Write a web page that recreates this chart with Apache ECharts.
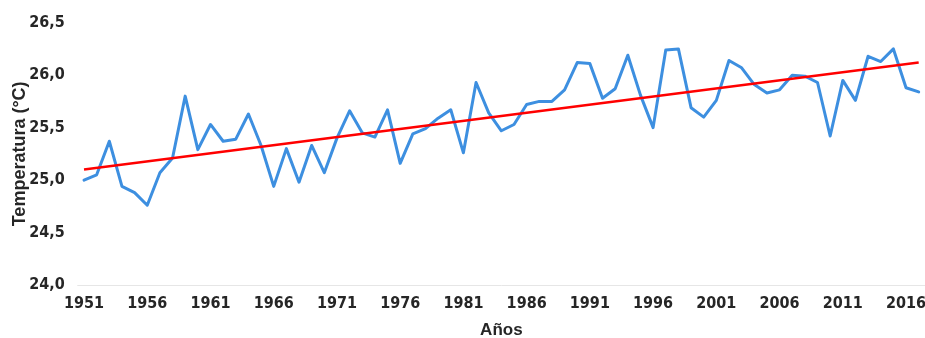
<!DOCTYPE html>
<html>
<head>
<meta charset="utf-8">
<script src="https://cdn.jsdelivr.net/npm/echarts@6/dist/echarts.min.js"></script>
<style>html,body{margin:0;padding:0;background:#fff}#c{width:925px;height:338px}</style>
</head>
<body>
<div id="c"></div>
<script>
var years = ['1951','1952','1953','1954','1955','1956','1957','1958','1959','1960',
 '1961','1962','1963','1964','1965','1966','1967','1968','1969','1970',
 '1971','1972','1973','1974','1975','1976','1977','1978','1979','1980',
 '1981','1982','1983','1984','1985','1986','1987','1988','1989','1990',
 '1991','1992','1993','1994','1995','1996','1997','1998','1999','2000',
 '2001','2002','2003','2004','2005','2006','2007','2008','2009','2010',
 '2011','2012','2013','2014','2015','2016','2017'];
var temps = [25.00,25.05,25.37,24.94,24.88,24.76,25.07,25.21,25.80,25.29,
 25.53,25.37,25.39,25.63,25.33,24.94,25.30,24.98,25.33,25.07,
 25.40,25.66,25.45,25.41,25.67,25.16,25.44,25.49,25.59,25.67,
 25.26,25.93,25.64,25.47,25.53,25.72,25.75,25.75,25.86,26.12,
 26.11,25.78,25.87,26.19,25.81,25.50,26.24,26.25,25.69,25.60,
 25.76,26.14,26.07,25.91,25.83,25.86,26.00,25.99,25.93,25.42,
 25.95,25.76,26.18,26.13,26.25,25.88,25.84];
var trendYears = ['1951','2017'];
var trendValues = [25.10,26.12];
var yTicks = {min:24, max:26.5, step:0.5};

var narrow = "'Liberation Sans Narrow','Arial Narrow','DejaVu Sans Condensed',sans-serif";
var chart = echarts.init(document.getElementById('c'), null, {renderer:'canvas'});
chart.setOption({
  animation:false,
  grid:{left:77.7, right:0, top:22.7, bottom:53, containLabel:false, outerBoundsMode:'none'},
  xAxis:{
    type:'category', data:years, boundaryGap:true,
    name:'Años', nameLocation:'middle', nameGap:37,
    nameTextStyle:{fontFamily:"'Liberation Sans',Arial,sans-serif", fontWeight:'bold', fontSize:17, color:'#262626'},
    axisLine:{lineStyle:{color:'#e6e6e6', width:1}},
    axisTick:{interval:4, length:5, lineStyle:{color:'#e0e0e0'}},
    axisLabel:{interval:4, margin:11, fontFamily:narrow, fontWeight:'bold', fontSize:16, color:'#262626'}
  },
  yAxis:{
    type:'value', min:yTicks.min, max:yTicks.max, interval:yTicks.step,
    name:'Temperatura (°C)', nameLocation:'middle', nameGap:49, nameRotate:90, nameMoveOverlap:false,
    nameTextStyle:{fontFamily:"'Liberation Sans',Arial,sans-serif", fontWeight:'bold', fontSize:18, color:'#262626'},
    axisLine:{show:false}, axisTick:{show:false}, splitLine:{show:false},
    axisLabel:{margin:13, fontFamily:narrow, fontWeight:'bold', fontSize:16, color:'#262626',
      formatter:function(v){return v.toFixed(1).replace('.',',');}}
  },
  series:[
    {type:'line', data:temps, symbol:'none', z:2,
     lineStyle:{color:'#3d8fe0', width:3, cap:'round', join:'round'}},
    {type:'line', data:trendYears.map(function(y,i){return [y,trendValues[i]];}), symbol:'none', z:3,
     lineStyle:{color:'#ff0000', width:2.5}}
  ]
});
</script>
</body>
</html>
